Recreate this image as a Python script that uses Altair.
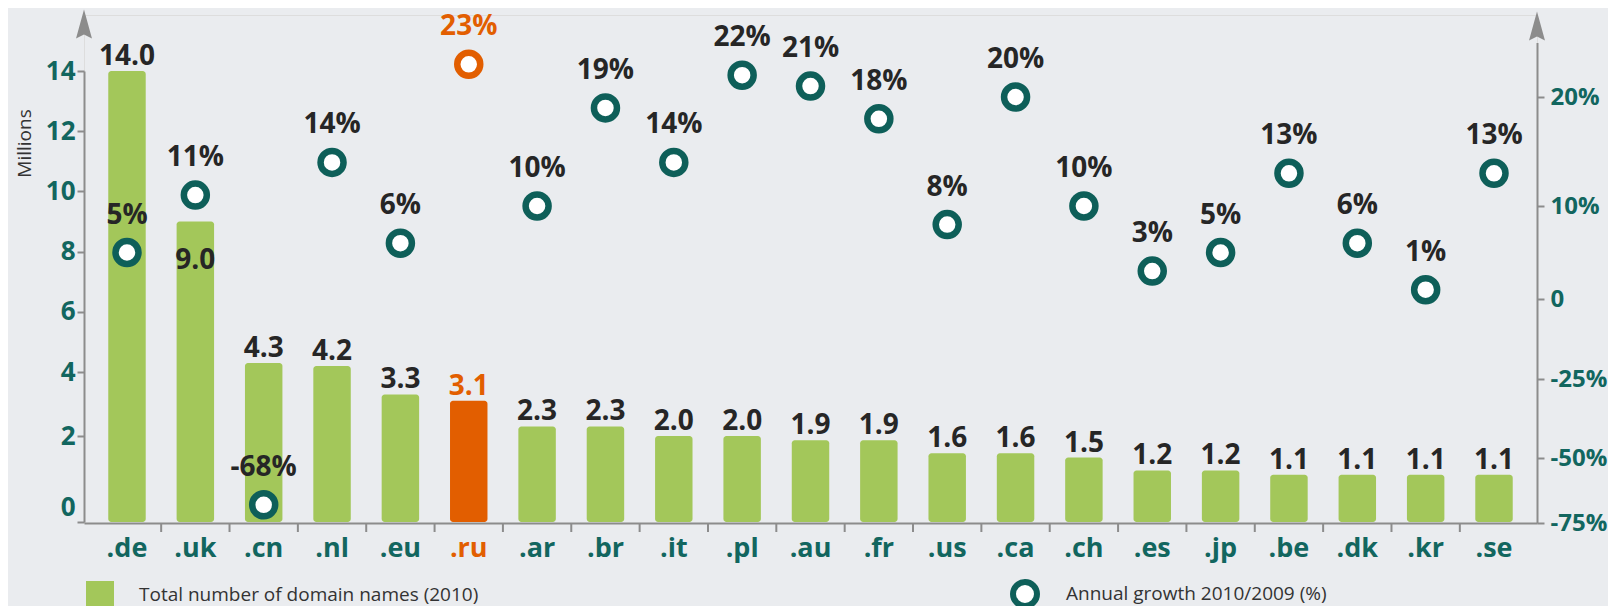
import altair as alt
import pandas as pd

# ---------------- data ----------------
tlds = [".de", ".uk", ".cn", ".nl", ".eu", ".ru", ".ar", ".br", ".it", ".pl", ".au",
        ".fr", ".us", ".ca", ".ch", ".es", ".jp", ".be", ".dk", ".kr", ".se"]
domains = [14.0, 9.0, 4.3, 4.2, 3.3, 3.1, 2.3, 2.3, 2.0, 2.0, 1.9,
           1.9, 1.6, 1.6, 1.5, 1.2, 1.2, 1.1, 1.1, 1.1, 1.1]
growth = [5, 11, -68, 14, 6, 23, 10, 19, 14, 22, 21,
          18, 8, 20, 10, 3, 5, 13, 6, 1, 13]
left_ticks = [0, 2, 4, 6, 8, 10, 12, 14]
right_ticks = [-75, -50, -25, 0, 10, 20]
bar_series = "Total number of domain names (2010)"
pt_series = "Annual growth 2010/2009 (%)"
highlight = ".ru"

# ---------------- style ----------------
W, H = 1453, 508
GREEN = "#a3c75a"
ORANGE = "#e25e00"
TEAL = "#0e5f59"
LABEL_TEAL = "#12665f"
DARK = "#262626"
AXIS_GRAY = "#8c8c8c"
BG = "#eaecef"
FONT = "Open Sans"

df = pd.DataFrame({"tld": tlds, "domains": domains, "growth": growth})
df["bar_series"] = bar_series
df["pt_series"] = pt_series

is_hl = f"datum.tld == '{highlight}'"

xscale = alt.Scale(paddingInner=0.452, paddingOuter=0.355)
x_axis = alt.Axis(
    title=None, ticks=False, domainColor=AXIS_GRAY, domainWidth=2,
    labelFont=FONT, labelFontSize=27, labelFontWeight="bold", labelAngle=0,
    labelPadding=12, labelBaseline="top",
    labelColor=alt.ConditionalAxisColor(
        condition={"test": f"datum.value == '{highlight}'", "value": ORANGE},
        value=LABEL_TEAL),
)
x_enc = alt.X("tld:N", sort=tlds, scale=xscale, axis=x_axis)

# the original's left axis is slightly compressed between 0 and 2
left_scale = alt.Scale(domain=[0, 2, 4, 14], range=[507, 421, 357, 56], nice=False, zero=False)
left_axis = alt.Axis(
    values=left_ticks, grid=False, domainColor=AXIS_GRAY, domainWidth=2,
    tickColor=AXIS_GRAY, tickWidth=2, tickSize=7,
    labelOffset=alt.ConditionalAxisNumber(condition={"test": "datum.value == 0", "value": -15}, value=0),
    labelFont=FONT, labelFontSize=26, labelFontWeight="bold", labelColor=LABEL_TEAL,
    labelPadding=2, labelBaseline="middle",
    title="Millions", titleFont=FONT, titleFontSize=19, titleFontWeight="normal",
    titleColor="#333333", titleX=-60, titleY=128, titleAngle=270,
    titleAlign="center", titleBaseline="middle",
)
y_left = alt.Y("domains:Q", scale=left_scale, axis=left_axis, stack=None)

right_scale = alt.Scale(domain=[-75, -50, -25, 0, 10, 20, 25],
                        range=[508, 443, 364, 284, 191, 82, 27.5],
                        nice=False, zero=False)
right_axis = alt.Axis(
    orient="right", values=right_ticks, grid=False, title=None,
    domainColor=AXIS_GRAY, domainWidth=2, tickColor=AXIS_GRAY, tickWidth=2, tickSize=7,
    labelExpr="datum.value == 0 ? '0' : datum.value + '%'",
    labelFont=FONT, labelFontSize=24, labelFontWeight="bold", labelColor=LABEL_TEAL,
    labelPadding=6, labelBaseline="middle",
)
y_right = alt.Y("growth:Q", scale=right_scale, axis=right_axis, stack=None)

# ---------------- left layer: bars ----------------
bars = alt.Chart(df).mark_bar(cornerRadius=3).encode(
    x=x_enc,
    y=y_left,
    color=alt.condition(
        is_hl, alt.value(ORANGE),
        alt.Color("bar_series:N", scale=alt.Scale(range=[GREEN]),
                  legend=alt.Legend(orient="none", legendX=2, legendY=566, title=None,
                                    symbolType="square", symbolSize=784, symbolStrokeWidth=0,
                                    symbolOpacity=1, labelLimit=600,
                                    labelFont=FONT, labelFontSize=19, labelColor="#333333",
                                    labelOffset=25, padding=0))),
)

bar_text_base = alt.Chart(df).encode(
    x=x_enc,
    y=y_left,
    text=alt.Text("domains:Q", format=".1f"),
    color=alt.condition(is_hl, alt.value(ORANGE), alt.value(DARK)),
)
bar_text = bar_text_base.mark_text(
    font=FONT, fontSize=28, fontWeight="bold", baseline="alphabetic", dy=-6
).transform_filter("datum.tld != '.uk'")
bar_text_in = bar_text_base.mark_text(
    font=FONT, fontSize=28, fontWeight="bold", baseline="alphabetic", dy=47
).transform_filter("datum.tld == '.uk'")

left = alt.layer(bars, bar_text, bar_text_in)

# ---------------- right layer: growth points ----------------
points = alt.Chart(df).mark_point(
    shape="circle", size=529, strokeWidth=6.5, fill="white", fillOpacity=1, opacity=1
).encode(
    x=x_enc,
    y=y_right,
    stroke=alt.condition(
        is_hl, alt.value(ORANGE),
        alt.Stroke("pt_series:N", scale=alt.Scale(range=[TEAL]),
                   legend=alt.Legend(orient="none", legendX=926, legendY=564, title=None,
                                     symbolType="circle", symbolSize=576, symbolStrokeWidth=6,
                                     symbolFillColor="white", symbolOpacity=1, labelLimit=600,
                                     labelFont=FONT, labelFontSize=19, labelColor="#333333",
                                     labelOffset=26, padding=0))),
)
pct_text = alt.Chart(df).transform_calculate(
    lab="datum.growth + '%'"
).mark_text(font=FONT, fontSize=28, fontWeight="bold", baseline="alphabetic", dy=-29).encode(
    x=x_enc,
    y=y_right,
    text="lab:N",
    color=alt.condition(is_hl, alt.value(ORANGE), alt.value(DARK)),
)
right = alt.layer(points, pct_text)

# ---------------- decorations ----------------
sep_ticks = alt.Chart(df).transform_filter(f"datum.tld != '{tlds[-1]}'").mark_rule(
    xOffset=W / (len(tlds) - 0.452 + 2 * 0.355) / 2, color=AXIS_GRAY, strokeWidth=2
).encode(x=x_enc, y=alt.value(H), y2=alt.value(H + 9))

arrow_shape = "M0,-1L0.55,1L0,0.72L-0.55,1Z"
one = pd.DataFrame({"k": [0]})
arrow_l = alt.Chart(one).mark_point(shape=arrow_shape, size=841, filled=True,
                                    color=AXIS_GRAY, opacity=1).encode(
    x=alt.value(0), y=alt.value(9))
arrow_r = alt.Chart(one).mark_point(shape=arrow_shape, size=841, filled=True,
                                    color=AXIS_GRAY, opacity=1).encode(
    x=alt.value(W), y=alt.value(11))

chart = alt.layer(left, right, sep_ticks, arrow_l, arrow_r).resolve_scale(
    y="independent", color="independent", stroke="independent"
).properties(
    width=W, height=H,
    autosize=alt.AutoSizeParams(type="none"),
    padding={"left": 76, "top": 7, "right": 71, "bottom": 83},
    background=BG,
).configure_view(strokeWidth=0, stroke="transparent").configure(font=FONT)

chart.save("out.html", embed_options={"renderer": "svg", "actions": False})
